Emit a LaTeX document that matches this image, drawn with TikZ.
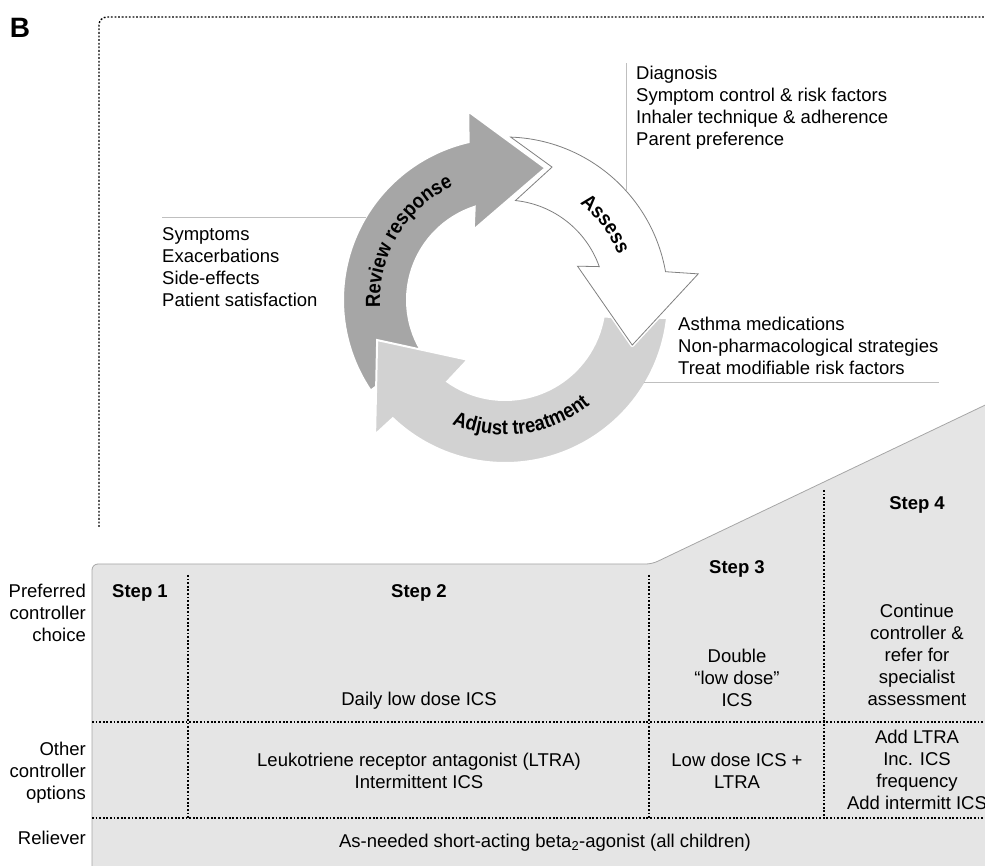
\documentclass[tikz,border=0pt]{standalone}
\usepackage{fontspec}
\setmainfont{Liberation Sans}
\newfontfamily\arcfont[FakeStretch=0.9]{Liberation Sans}
\usetikzlibrary{
  arrows.meta,
  positioning,
  calc,
  decorations.text
}

\begin{document}
\begin{tikzpicture}[x=1pt, y=1pt,
    txt/.style={font=\fontsize{18.5}{22}\selectfont, inner sep=0pt, align=left},
    cell/.style={font=\fontsize{18.5}{22}\selectfont, inner sep=0pt, align=center},
    rowlbl/.style={font=\fontsize{18.5}{22}\selectfont, inner sep=0pt, align=right, anchor=east},
    steplbl/.style={font=\fontsize{18.5}{22}\selectfont\bfseries, inner sep=0pt},
    leader/.style={draw=gray!50, line width=1pt},
    grid/.style={draw=black, line width=1.2pt, dash pattern=on 1.8pt off 1.8pt},
    arctext/.style={decorate, decoration={text along path, text align=center,
      text={|\arcfont\fontsize{20.5}{22}\selectfont\bfseries|#1}}}
  ]

  \useasboundingbox (0,0) rectangle (985,865);

  %% ===== panel label and frame =====
  \node[font=\fontsize{28}{30}\selectfont\bfseries, inner sep=0pt] (panelb) at (20,837) {B};
  \draw[grid, line width=1.4pt, rounded corners=8pt] (99,338) -- (99,848) -- (1000,848);

  %% ===== management cycle =====
  \begin{scope}[shift={(505,565)}]
    %% Review response
    \path[fill=gray!70, draw=white, line width=2pt]
      (214:162) arc[start angle=214, end angle=103, radius=162]
      -- (101:192) -- (73:138) -- (114:77) -- (108:98)
      arc[start angle=108, end angle=212, radius=98] -- cycle;
    %% Adjust treatment
    \path[fill=gray!35, draw=white, line width=2pt]
      (-6.3:163) arc[start angle=-6.3, end angle=-133.5, radius=163]
      -- (-134:187) -- (-162.6:134) -- (-122:70.5) -- (-125.3:100)
      arc[start angle=-125.3, end angle=-9.6, radius=100] -- cycle;
    %% Assess
    \path[fill=white, draw=gray, line width=0.8pt,
          preaction={draw=white, line width=4pt, line join=round}]
      (88:163) arc[start angle=88, end angle=10, radius=163]
      -- (7.7:195) -- (-19.5:135) -- (25:80) -- (19.5:100)
      arc[start angle=19.5, end angle=84, radius=100] -- (70.5:141) -- cycle;

    %% --- labels on the arrows ---
    \path[arctext=Review response] (199:125) arc[start angle=199, end angle=99, radius=125];
    \path[arctext=Assess] (77:122) arc[start angle=77, end angle=-3, radius=122];
    \path[arctext=Adjust treatment] (238:135) arc[start angle=238, end angle=318, radius=135];

    \coordinate (revlead) at (149.2:162);
    \coordinate (asslead) at (42:163);
    \coordinate (adjlead) at (-30.8:162);
  \end{scope}

  %% --- notes round the cycle ---
  \node[txt, anchor=west] (revtxt) at (162,598)
    {Symptoms\\Exacerbations\\Side-effects\\Patient satisfaction};
  \draw[leader] (revtxt.north west |- revlead) -- (revlead);

  \node[txt, anchor=west] (asstxt) at (636,757)
    {Diagnosis\\Symptom control \& risk factors\\Inhaler technique \& adherence\\Parent preference};
  \draw[leader] (asslead) -- ([yshift=3pt]asslead |- asstxt.north);

  \node[txt, anchor=west] (adjtxt) at (678,519)
    {Asthma medications\\Non-pharmacological strategies\\Treat modifiable risk factors};
  \draw[leader] (adjlead) -- (adjlead -| adjtxt.east);

  %% ===== stepwise table =====
  \path[fill=gray!20, draw=gray!70, line width=0.8pt, rounded corners=6pt]
    (92,-10) -- (92,301) -- (652,301) -- (1000,467) -- (1000,-10) -- cycle;

  \draw[grid] (92,143) -- (1000,143);
  \draw[grid] (92,47) -- (1000,47);
  \draw[grid] (188,290) -- (188,47);
  \draw[grid] (649,290) -- (649,47);
  \draw[grid] (824,375) -- (824,47);

  %% --- row labels ---
  \node[rowlbl] (rpref) at (86,252) {Preferred\\controller\\choice};
  \node[rowlbl] (rother) at (86,92) {Other\\controller\\options};
  \node[rowlbl] (rrel) at (86,27) {Reliever};

  %% --- steps ---
  \node[steplbl] (step1) at (140,272) {Step 1};
  \node[steplbl] (step2) at (419,272) {Step 2};
  \node[steplbl] (step3) at (737,296) {Step 3};
  \node[steplbl] (step4) at (917,360) {Step 4};

  \node[cell] (pref2) at (419,164) {Daily low dose ICS};
  \node[cell] (pref3) at (737,187) {Double\\“low dose”\\ICS};
  \node[cell] (pref4) at (917,210) {Continue\\controller \&\\refer for\\specialist\\assessment};

  \node[cell] (oth2) at (419,94) {Leukotriene receptor antagonist (LTRA)\\Intermittent ICS};
  \node[cell] (oth3) at (737,94) {Low dose ICS +\\LTRA};
  \node[cell] (oth4) at (917,95) {Add LTRA\\Inc. ICS\\frequency\\Add intermitt ICS};

  \node[cell] (rel) at (545,22) {As-needed short-acting beta\textsubscript{2}-agonist (all children)};
\end{tikzpicture}
\end{document}
